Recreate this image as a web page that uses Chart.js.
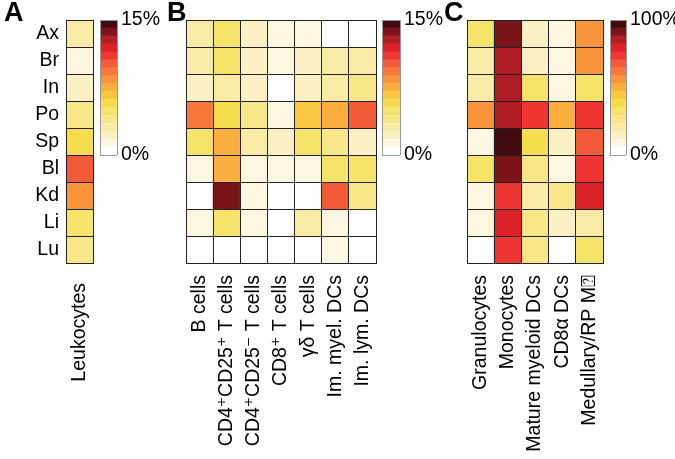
<!DOCTYPE html>
<html lang="en">
  <head>
    <meta charset="UTF-8" />
    <script src="https://cdn.jsdelivr.net/npm/chart.js@4.4.1/dist/chart.umd.min.js"></script>
    <title>Heatmaps</title>
    <style>
      body { margin: 0; background: #fff; }
      #wrap { position: relative; width: 675px; height: 459px; overflow: hidden; }
      canvas { position: absolute; left: 0; top: 0; }
      .tag { position: absolute; top: -1px; font: bold 27px Arial, "Liberation Sans", sans-serif; line-height: 27px; }
    </style>
  </head>
  <body>
    <div id="wrap">
      <canvas id="heatA" width="675" height="459"></canvas>
      <canvas id="heatB" width="675" height="459"></canvas>
      <canvas id="heatC" width="675" height="459"></canvas>
      <canvas id="barA" width="675" height="459"></canvas>
      <canvas id="barB" width="675" height="459"></canvas>
      <canvas id="barC" width="675" height="459"></canvas>
      <div class="tag" style="left:4px">A</div>
      <div class="tag" style="left:167px">B</div>
      <div class="tag" style="left:444px">C</div>
    </div>
    <script>
      const tissues = ["Ax", "Br", "In", "Po", "Sp", "Bl", "Kd", "Li", "Lu"];

      const leukoCols = ["Leukocytes"];
      // % of cells, one value per tissue
      const leukocytes = [3.1, 1.2, 1.9, 3.8, 5.8, 10.0, 8.3, 4.8, 3.6];

      const lymphCols = ["B cells", "CD4\u207aCD25\u207a T cells", "CD4\u207aCD25\u207b T cells",
        "CD8\u207a T cells", "\u03b3\u03b4 T cells", "Im. myel. DCs", "Im. lym. DCs"];
      const lymphoid = [
        [3.0, 4.6, 2.0, 0.9, 1.2, 0, 0],
        [3.2, 5.0, 2.1, 0.9, 1.9, 2.7, 3.3],
        [2.6, 3.0, 1.8, 0, 1.9, 2.8, 3.7],
        [9.6, 5.8, 4.0, 0.9, 6.8, 7.6, 10.4],
        [4.8, 7.7, 3.0, 2.0, 4.7, 3.8, 1.9],
        [1.0, 7.8, 1.1, 1.2, 1.5, 5.0, 4.6],
        [0, 13.8, 0.9, 0, 0, 9.8, 4.2],
        [1.0, 5.2, 1.1, 0, 2.7, 0.9, 0],
        [0, 0, 0, 0, 0, 1.4, 0],
      ];

      const myeloCols = ["Granulocytes", "Monocytes", "Mature myeloid DCs", "CD8\u03b1 DCs", "Medullary/RP M\u2370"];
      const myeloid = [
        [32, 92, 16, 8, 57],
        [19, 84, 15, 7, 55],
        [18, 85, 33, 11, 33],
        [57, 86, 73, 49, 74],
        [7, 96, 38, 13, 67],
        [32, 90, 27, 8, 73],
        [6, 72, 20, 25, 79],
        [7, 80, 26, 12, 18],
        [0, 74, 26, 0, 32],
      ];

      const palette = ["#ffffff", "#fdf7e1", "#fbf0c3", "#f9eba5", "#f8e788", "#f6e36a",
        "#f7dc4e", "#fac840", "#fbae3d", "#f9943b", "#f7783a", "#f35a37", "#ef3632",
        "#dc2229", "#b01d25", "#7a1419", "#420c0f"];

      const W = 675, H = 459;
      const fam = 'Arial, "Liberation Sans", "DejaVu Sans", sans-serif';
      Chart.defaults.color = "#000";

      function colorFor(v, max) {
        let i = Math.floor((v / max) * palette.length);
        return palette[Math.min(palette.length - 1, Math.max(0, i))];
      }

      function heatmap(id, cols, values, max, box, showRows, labelPad) {
        const yW = 60, xH = 190;
        const datasets = values.map((row, r) => ({
          data: row.map(() => [r, r + 1]),
          backgroundColor: row.map((v) => colorFor(v, max)),
          grouped: false,
          barPercentage: 1,
          categoryPercentage: 1,
          borderWidth: 0,
        }));
        new Chart(document.getElementById(id), {
          type: "bar",
          data: { labels: cols, datasets: datasets },
          options: {
            responsive: false,
            animation: false,
            layout: {
              padding: { left: box.left - yW, right: W - box.right, top: box.top, bottom: H - box.bottom - xH },
            },
            plugins: { legend: { display: false }, tooltip: { enabled: false } },
            scales: {
              x: {
                grid: { color: "#222", drawTicks: false, offset: true, z: 1 },
                border: { color: "#222", z: 1 },
                ticks: { autoSkip: false, minRotation: 90, maxRotation: 90, padding: labelPad, font: { family: fam, size: 19.5 } },
                afterFit: (s) => { s.height = xH; },
              },
              y: {
                min: 0,
                max: 9,
                reverse: true,
                grid: { color: "#222", drawTicks: false, z: 1 },
                border: { color: "#222", z: 1 },
                ticks: {
                  stepSize: 1,
                  padding: 7,
                  labelOffset: 13.5,
                  font: { family: fam, size: 19.5 },
                  callback: (v) => (showRows && tissues[v] !== undefined ? tissues[v] : ""),
                },
                afterFit: (s) => { s.width = yW; },
              },
            },
          },
        });
      }

      function colorbar(id, topLabel, box) {
        const yW = 70;
        new Chart(document.getElementById(id), {
          type: "bar",
          data: {
            labels: [""],
            datasets: palette.map((c) => ({ data: [1], backgroundColor: c, barPercentage: 1, categoryPercentage: 1 })),
          },
          options: {
            responsive: false,
            animation: false,
            layout: { padding: { left: box.left, right: W - box.right - yW, top: box.top, bottom: H - box.bottom } },
            plugins: { legend: { display: false }, tooltip: { enabled: false } },
            scales: {
              x: {
                stacked: true,
                grid: { color: "#999", drawTicks: false, offset: true, z: 1 },
                border: { display: false },
                ticks: { display: false },
                afterFit: (s) => { s.height = 0; },
              },
              y: {
                stacked: true,
                position: "right",
                min: 0,
                max: palette.length,
                afterBuildTicks: (s) => { s.ticks = [{ value: 0 }, { value: palette.length }]; },
                grid: { color: "#999", drawTicks: false, z: 1 },
                border: { display: false },
                ticks: {
                  padding: 4,
                  font: { family: fam, size: 19.5 },
                  callback: (v) => (v === 0 ? "0%" : topLabel),
                },
                afterFit: (s) => { s.width = yW; },
              },
            },
          },
        });
      }

      heatmap("heatA", leukoCols, leukocytes.map((v) => [v]), 15, { left: 66, right: 93, top: 20, bottom: 263 }, true, 20);
      heatmap("heatB", lymphCols, lymphoid, 15, { left: 186, right: 376, top: 20, bottom: 263 }, false, 12);
      heatmap("heatC", myeloCols, myeloid, 100, { left: 467, right: 603, top: 20, bottom: 263 }, false, 12);

      colorbar("barA", "15%", { left: 100, right: 117, top: 20, bottom: 155 });
      colorbar("barB", "15%", { left: 382, right: 400, top: 20, bottom: 155 });
      colorbar("barC", "100%", { left: 610, right: 626, top: 20, bottom: 155 });
    </script>
  </body>
</html>
